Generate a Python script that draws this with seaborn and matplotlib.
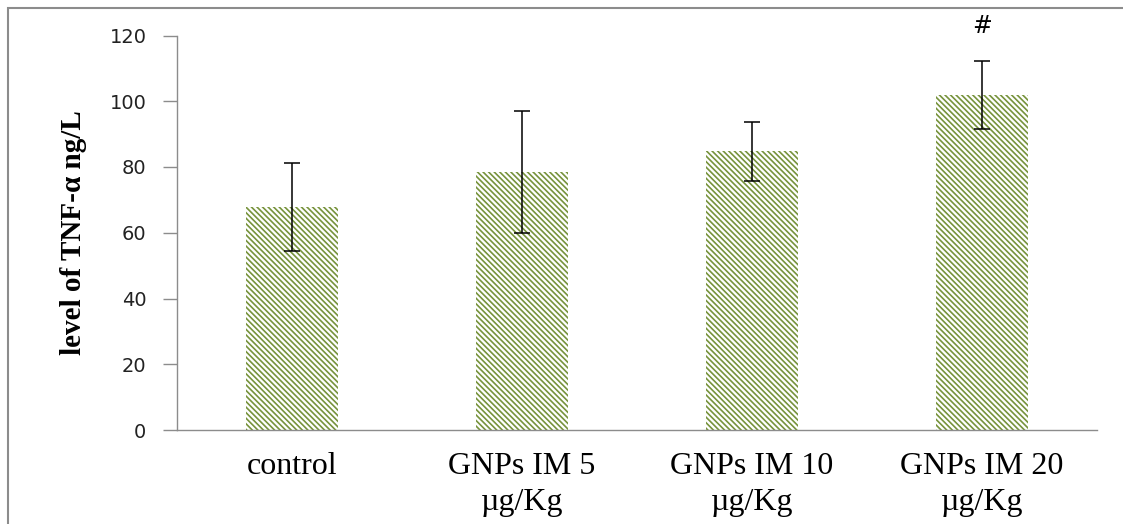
import matplotlib
matplotlib.use("Agg")
import matplotlib.pyplot as plt
import seaborn as sns
import pandas as pd
from matplotlib.patches import Rectangle

categories = ["control", "GNPs IM 5\nµg/Kg", "GNPs IM 10\nµg/Kg", "GNPs IM 20\nµg/Kg"]
values = [67.8, 78.5, 84.8, 101.9]
errors = [13.5, 18.6, 9.0, 10.2]
marks = ["", "", "", "#"]
yticks = [0, 20, 40, 60, 80, 100, 120]

GREEN = "#77933C"
GRAY = "#8C8C8C"

sns.set_style("white")
plt.rcParams["hatch.linewidth"] = 1.2

df = pd.DataFrame({"group": categories, "value": values})

fig = plt.figure(figsize=(11.23, 5.24), dpi=100)
ax = fig.add_axes([177/1123, 1-430/524, 920/1123, (430-35.5)/524])

sns.barplot(data=df, x="group", y="value", ax=ax, color="white",
            edgecolor=GREEN, linewidth=0, hatch="\\" * 6, width=0.4,
            errorbar=None)

xs = list(range(len(categories)))
ax.errorbar(xs, values, yerr=errors, fmt="none", ecolor="black",
            elinewidth=1.1, capsize=5.5, capthick=1.1, zorder=5)
for x, v, e, m in zip(xs, values, errors, marks):
    if m:
        ax.text(x, 123, m, ha="center", va="center", fontsize=17,
                family="DejaVu Sans", color="black")

ax.set_ylim(0, 120)
ax.set_xlim(-0.5, len(categories) - 0.5)
ax.set_yticks(yticks)
ax.set_yticklabels([str(t) for t in yticks], family="DejaVu Sans", fontsize=14, color="#222222")
ax.set_xticks(xs)
ax.set_xticklabels(categories, family="Liberation Serif", fontsize=23,
                   linespacing=1.3, color="black")
ax.set_xticks([i - 0.5 for i in range(len(categories) + 1)], minor=True)
ax.tick_params(axis="x", which="major", length=0, pad=16)
ax.tick_params(axis="x", which="minor", length=8, width=1, color=GRAY, direction="out")
ax.tick_params(axis="y", which="major", length=10, width=1, color=GRAY, direction="out", pad=12, left=True)

for s in ["top", "right"]:
    ax.spines[s].set_visible(False)
for s in ["left", "bottom"]:
    ax.spines[s].set_color(GRAY)
    ax.spines[s].set_linewidth(1)

ax.set_xlabel("")
ax.set_ylabel("level of TNF-α ng/L", family="Liberation Serif", fontsize=21,
              fontweight="bold", color="black")
ax.yaxis.set_label_coords(-0.113, 0.5)
ax.yaxis.label.set_va("center")

fig.patches.append(Rectangle((8/1123, -0.2), 1.2, 1.2 - 8/524,
                             transform=fig.transFigure, fill=False,
                             edgecolor=GRAY, linewidth=1.5, zorder=10))

fig.savefig("out.png", dpi=100)
